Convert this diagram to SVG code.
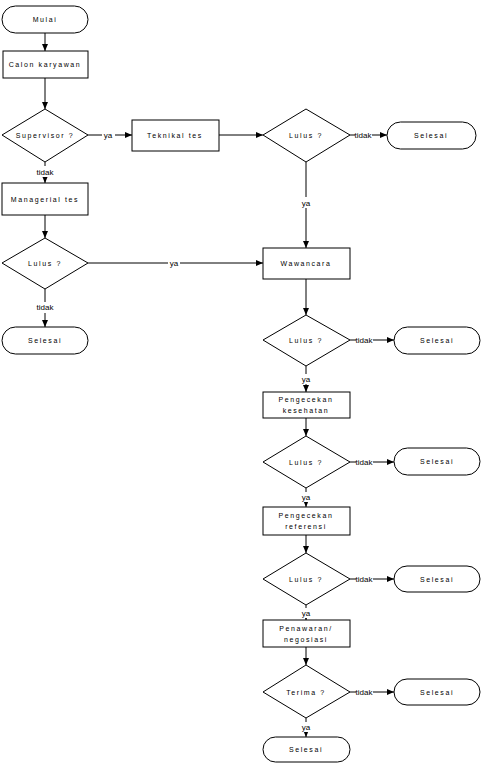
<svg xmlns="http://www.w3.org/2000/svg" width="488" height="777" viewBox="0 0 488 777">
<defs>
<marker id="ah" markerWidth="8" markerHeight="6" refX="7" refY="3" orient="auto" markerUnits="userSpaceOnUse">
<path d="M0,0 L7,3 L0,6 z" fill="#000"/>
</marker>
<style>
.s{fill:#fff;stroke:#000;stroke-width:1}
.t{font-family:"Liberation Sans",Arial,sans-serif;font-size:7px;letter-spacing:1.6px;text-anchor:middle;dominant-baseline:central;fill:#000}
.c{fill:none;stroke:#000;stroke-width:1;marker-end:url(#ah)}
.n{fill:none;stroke:#000;stroke-width:1}
.l{font-family:"Liberation Sans",Arial,sans-serif;font-size:8px;text-anchor:middle;dominant-baseline:central;fill:#000}
.bg{fill:#fff}
</style>
</defs>
<rect width="488" height="777" fill="#fff"/>
<g id="connectors">
<path class="c" d="M45,33 V51"/>
<path class="c" d="M45,78 V109"/>
<path class="c" d="M88,135 H132"/>
<path class="c" d="M219,135 H263"/>
<path class="c" d="M350,135 H387"/>
<path class="c" d="M306,162 V248"/>
<path class="c" d="M45,162 V183"/>
<path class="c" d="M45,215 V238"/>
<path class="c" d="M88,263 H263"/>
<path class="c" d="M45,289 V327"/>
<path class="c" d="M306,279 V315"/>
<path class="c" d="M350,340 H394"/>
<path class="c" d="M306,366 V392"/>
<path class="c" d="M306,418 V436"/>
<path class="c" d="M350,462 H394"/>
<path class="c" d="M306,488 V507"/>
<path class="c" d="M306,535 V553"/>
<path class="c" d="M350,579 H394"/>
<path class="c" d="M306,605 V620"/>
<path class="c" d="M306,647 V665"/>
<path class="c" d="M350,692 H394"/>
<path class="c" d="M306,718 V737"/>
<rect class="bg" x="102" y="130" width="13" height="10"/><text class="l" x="108" y="135">ya</text>
<rect class="bg" x="355" y="130" width="17" height="10"/><text class="l" x="363" y="135">tidak</text>
<rect class="bg" x="300" y="197" width="12" height="11"/><text class="l" x="306" y="203">ya</text>
<rect class="bg" x="36" y="166" width="17" height="11"/><text class="l" x="45" y="172">tidak</text>
<rect class="bg" x="168" y="258" width="12" height="10"/><text class="l" x="174" y="263">ya</text>
<rect class="bg" x="36" y="302" width="17" height="11"/><text class="l" x="45" y="307">tidak</text>
<rect class="bg" x="356" y="335" width="17" height="10"/><text class="l" x="364" y="340">tidak</text>
<rect class="bg" x="300" y="374" width="12" height="10"/><text class="l" x="306" y="379">ya</text>
<rect class="bg" x="356" y="457" width="17" height="10"/><text class="l" x="364" y="462">tidak</text>
<rect class="bg" x="300" y="492" width="12" height="10"/><text class="l" x="306" y="497">ya</text>
<rect class="bg" x="356" y="574" width="17" height="10"/><text class="l" x="364" y="579">tidak</text>
<rect class="bg" x="300" y="608" width="12" height="10"/><text class="l" x="306" y="613">ya</text>
<rect class="bg" x="356" y="687" width="17" height="10"/><text class="l" x="364" y="692">tidak</text>
<rect class="bg" x="300" y="722" width="12" height="10"/><text class="l" x="306" y="727">ya</text>
</g>
<g id="mulai"><rect class="s" x="2" y="6" width="86" height="27" rx="13.5"/><text class="t" x="45" y="19.5">Mulai</text></g>
<g id="calon"><rect class="s" x="3" y="51" width="85" height="27"/><text class="t" x="45" y="64.5">Calon karyawan</text></g>
<g id="supervisor"><polygon class="s" points="45,109 88,135 45,162 2,135"/><text class="t" x="45" y="135">Supervisor ?</text></g>
<g id="teknikal"><rect class="s" x="132" y="120" width="87" height="31"/><text class="t" x="175" y="135">Teknikal tes</text></g>
<g id="lulus1"><polygon class="s" points="306,109 350,135 306,162 263,135"/><text class="t" x="306" y="135">Lulus ?</text></g>
<g id="selesai1"><rect class="s" x="387" y="122" width="89" height="27" rx="13.5"/><text class="t" x="431" y="135.5">Selesai</text></g>
<g id="managerial"><rect class="s" x="2" y="183" width="86" height="32"/><text class="t" x="45" y="199">Managerial tes</text></g>
<g id="lulus2"><polygon class="s" points="45,238 88,263 45,289 2,263"/><text class="t" x="45" y="263">Lulus ?</text></g>
<g id="selesai2"><rect class="s" x="2" y="327" width="86" height="27" rx="13.5"/><text class="t" x="45" y="340.5">Selesai</text></g>
<g id="wawancara"><rect class="s" x="263" y="248" width="87" height="31"/><text class="t" x="306" y="263.5">Wawancara</text></g>
<g id="lulus3"><polygon class="s" points="306,315 350,340 306,366 263,340"/><text class="t" x="306" y="340">Lulus ?</text></g>
<g id="selesai3"><rect class="s" x="394" y="327" width="86" height="27" rx="13.5"/><text class="t" x="437" y="340.5">Selesai</text></g>
<g id="kesehatan"><rect class="s" x="263" y="392" width="87" height="26"/><text class="t" x="306" y="399">Pengecekan</text><text class="t" x="306" y="410">kesehatan</text></g>
<g id="lulus4"><polygon class="s" points="306,436 350,462 306,488 263,462"/><text class="t" x="306" y="462">Lulus ?</text></g>
<g id="selesai4"><rect class="s" x="394" y="448" width="86" height="27" rx="13.5"/><text class="t" x="437" y="461.5">Selesai</text></g>
<g id="referensi"><rect class="s" x="263" y="507" width="87" height="28"/><text class="t" x="306" y="515">Pengecekan</text><text class="t" x="306" y="526">referensi</text></g>
<g id="lulus5"><polygon class="s" points="306,553 350,579 306,605 263,579"/><text class="t" x="306" y="579">Lulus ?</text></g>
<g id="selesai5"><rect class="s" x="394" y="566" width="86" height="26" rx="13"/><text class="t" x="437" y="579">Selesai</text></g>
<g id="penawaran"><rect class="s" x="263" y="620" width="87" height="27"/><text class="t" x="306" y="628">Penawaran/</text><text class="t" x="306" y="639">negosiasi</text></g>
<g id="terima"><polygon class="s" points="306,665 350,692 306,718 263,692"/><text class="t" x="306" y="692">Terima ?</text></g>
<g id="selesai6"><rect class="s" x="394" y="679" width="86" height="26" rx="13"/><text class="t" x="437" y="692">Selesai</text></g>
<g id="selesai7"><rect class="s" x="263" y="737" width="87" height="25" rx="12.5"/><text class="t" x="306" y="749.5">Selesai</text></g>
</svg>
